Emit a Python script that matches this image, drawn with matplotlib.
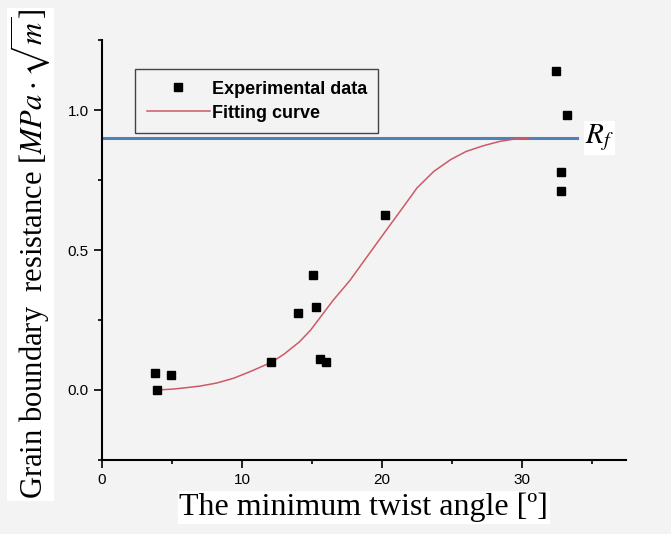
import matplotlib
matplotlib.use('Agg')
import matplotlib.pyplot as plt
from matplotlib.ticker import MultipleLocator

plt.rcParams['font.family'] = 'Liberation Sans'
plt.rcParams['mathtext.fontset'] = 'stix'

exp_x = [3.8, 3.95, 4.95, 12.07, 13.98, 15.1, 15.29, 15.57, 15.98, 20.2, 32.4, 33.2, 32.8, 32.8]
exp_y = [0.062, 0.0, 0.054, 0.099, 0.274, 0.411, 0.298, 0.112, 0.099, 0.624, 1.141, 0.983, 0.779, 0.710]

# Fitting curve (traced points)
fit_x = [3.9, 5.0, 5.8, 7.0, 8.2, 9.4, 10.6, 12.1, 13.0, 14.1, 14.9, 16.5, 17.7,
         19.0, 20.1, 21.3, 22.5, 23.7, 24.9, 26.0, 27.2, 28.4, 29.4, 30.5]
fit_y = [0.0, 0.003, 0.007, 0.014, 0.025, 0.042, 0.066, 0.099, 0.128, 0.172, 0.214, 0.320, 0.391,
         0.481, 0.557, 0.639, 0.722, 0.781, 0.823, 0.852, 0.872, 0.888, 0.896, 0.9]

# Critical resistance R_f
rf_value = 0.9
rf_xmax = 33.9

bg = '#f3f3f3'
fig = plt.figure(figsize=(6.71, 5.34), dpi=100, facecolor=bg)
ax = fig.add_axes([0.152, 0.1386, 0.7805, 0.7864])
ax.set_facecolor(bg)

ax.plot([0, rf_xmax], [rf_value, rf_value], color='#4f81bd', lw=2.2, zorder=2)
ax.plot(fit_x, fit_y, color='#cc5a66', lw=1.1, label='Fitting curve', zorder=3)
ax.plot(exp_x, exp_y, 's', color='black', ms=6, label='Experimental data', zorder=4)

ax.text(rf_xmax + 0.6, rf_value, '$R_f$', fontsize=21, va='center', ha='left',
        bbox=dict(facecolor='white', edgecolor='none', pad=1))

ax.set_xlim(0, 37.4)
ax.set_ylim(-0.25, 1.25)
ax.xaxis.set_major_locator(MultipleLocator(10))
ax.xaxis.set_minor_locator(MultipleLocator(5))
ax.yaxis.set_major_locator(MultipleLocator(0.5))
ax.yaxis.set_minor_locator(MultipleLocator(0.25))
ax.tick_params(axis='both', which='major', direction='out', length=6, width=1.2, labelsize=11)
ax.tick_params(axis='both', which='minor', direction='out', length=3, width=1.2)
ax.spines['top'].set_visible(False)
ax.spines['right'].set_visible(False)
ax.spines['left'].set_linewidth(1.5)
ax.spines['bottom'].set_linewidth(1.5)

ax.set_xlabel('The minimum twist angle [º]', fontsize=23, family='Liberation Serif',
              bbox=dict(facecolor='white', edgecolor='none', pad=1))
ax.xaxis.set_label_coords(0.5, -0.078)
ax.set_ylabel(r'Grain boundary  resistance [$MPa\cdot\sqrt{m}$]', fontsize=22,
              family='Liberation Serif',
              bbox=dict(facecolor='white', edgecolor='none', pad=1))
ax.yaxis.set_label_coords(-0.095, 0.49)

handles, labels = ax.get_legend_handles_labels()
leg = ax.legend(handles[::-1], labels[::-1], loc='upper left', bbox_to_anchor=(0.063, 0.931),
                prop={'weight': 'bold', 'size': 13}, frameon=True, fancybox=False,
                borderpad=0.64, borderaxespad=0, handlelength=3.5, handletextpad=0.1,
                labelspacing=0.4)
leg.get_frame().set_edgecolor('#444444')
leg.get_frame().set_facecolor(bg)
leg.get_frame().set_linewidth(1.0)
leg.get_frame().set_alpha(1)

plt.savefig('out.png', dpi=100, facecolor=bg)
